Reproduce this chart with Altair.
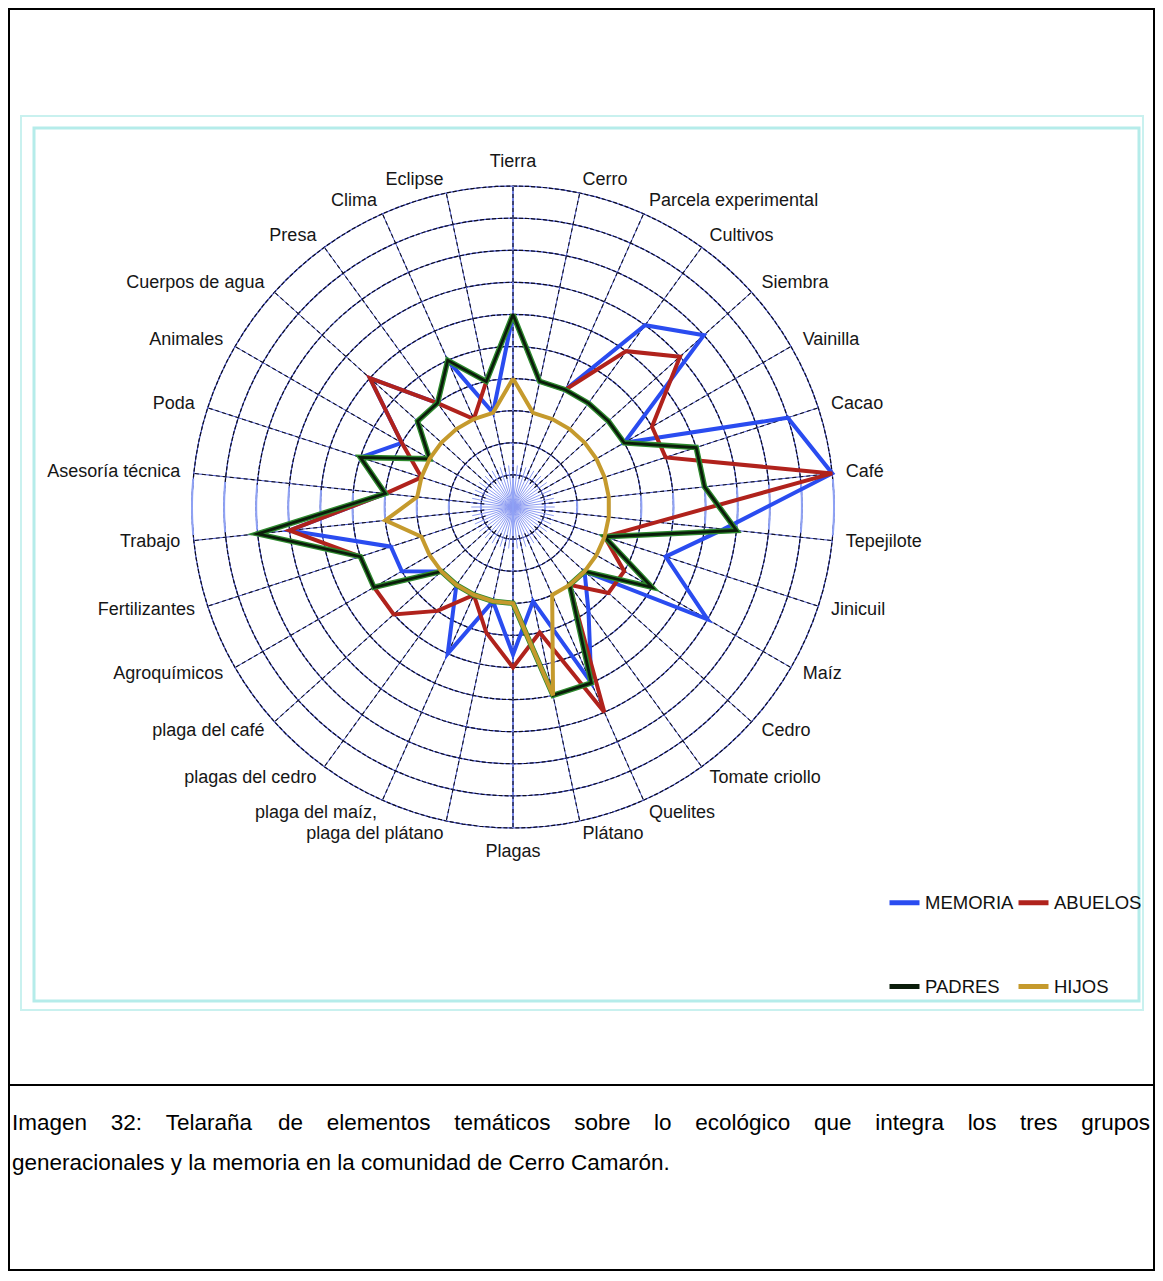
import math
import altair as alt
import pandas as pd

# ---------------- data ----------------
categorias = ["Tierra", "Cerro", "Parcela experimental", "Cultivos", "Siembra", "Vainilla",
              "Cacao", "Café", "Tepejilote", "Jinicuil", "Maíz", "Cedro", "Tomate criollo",
              "Quelites", "Plátano", "Plagas", "plaga del plátano", "plaga del maíz,",
              "plagas del cedro", "plaga del café", "Agroquímicos", "Fertilizantes", "Trabajo",
              "Asesoría técnica", "Poda", "Animales", "Cuerpos de agua", "Presa", "Clima", "Eclipse"]
memoria = [6, 4, 4, 7, 8, 4, 9, 10, 6.6, 5, 7, 3, 4, 6, 3, 4.6, 3, 5, 3, 3, 4, 4, 7, 4, 5, 4, 6, 4, 5, 3]
abuelos = [6, 4, 4, 6, 7, 5, 5, 10, 4.5, 3, 4, 4, 3, 7, 4, 5, 4, 3, 4, 5, 5, 5, 7, 4, 3, 4, 6, 4, 3, 4]
padres = [6, 4, 4, 4, 4, 4, 6, 6, 7, 3, 5, 3, 3, 6, 6, 3, 3, 3, 3, 3, 5, 5, 8, 4, 5, 3, 4, 4, 5, 4]
hijos = [4, 3, 3, 3, 3, 3, 3, 3, 3, 3, 3, 3, 3, 3, 6, 3, 3, 3, 3, 3, 3, 3, 4, 3, 3, 3, 3, 3, 3, 3]
series_nombres = ["MEMORIA", "ABUELOS", "PADRES", "HIJOS"]
series_colores = ["#2a4cf0", "#b0221c", "#0b1d0b", "#c59a2d"]
anillos = [1, 2, 3, 4, 5, 6, 7, 8, 9, 10]
linea1 = "Imagen 32: Telaraña de elementos temáticos sobre lo ecológico que integra los tres grupos"
linea2 = "generacionales y la memoria en la comunidad de Cerro Camarón."

# ---------------- layout ----------------
CX, CY, U = 513.0, 507.0, 32.1      # page position of centre, px per unit
W, H = 1147, 1263
XMIN, XMAX = (8 - CX) / U, (8 + W - CX) / U
YMIN, YMAX = (CY - 8 - H) / U, (CY - 8) / U
FONT = "Liberation Sans"
n = len(categorias)
RMAX = max(anillos)

xs = alt.Scale(domain=[XMIN, XMAX], nice=False, zero=False)
ys = alt.Scale(domain=[YMIN, YMAX], nice=False, zero=False)
X = alt.X("px:Q", scale=xs, axis=None)
Y = alt.Y("py:Q", scale=ys, axis=None)


def dx(page_x):
    return (page_x - CX) / U


def dy(page_y):
    return (CY - page_y) / U


# series table
filas = []
for nombre, vals in zip(series_nombres, [memoria, abuelos, padres, hijos]):
    for k in range(n + 1):
        filas.append({"serie": nombre, "idx": k % n, "orden": k, "valor": vals[k % n]})
df_series = pd.DataFrame(filas)

base_series = alt.Chart(df_series).transform_calculate(
    th=f"datum.idx * 2 * PI / {n}"
).transform_calculate(
    px="datum.valor * sin(datum.th)", py="datum.valor * cos(datum.th)"
)

color = alt.Color(
    "serie:N",
    scale=alt.Scale(domain=series_nombres, range=series_colores),
    legend=alt.Legend(
        title=None, orient="none", legendX=879, legendY=877, columns=2, direction="horizontal",
        symbolType="stroke", symbolSize=900, symbolStrokeWidth=5,
        labelFontSize=18.5, labelFont=FONT, labelColor="#111111",
        columnPadding=-6, rowPadding=56, labelOffset=3, padding=0,
    ),
)


def capa_serie(nombre, width=4):
    return base_series.transform_filter(alt.datum.serie == nombre).mark_line(
        strokeWidth=width, strokeJoin="miter"
    ).encode(x=X, y=Y, order="orden:Q", color=color)


padres_halo = base_series.transform_filter(alt.datum.serie == "PADRES").mark_line(
    strokeWidth=5.5, strokeJoin="miter", color="#2e8a2e"
).encode(x=X, y=Y, order="orden:Q")
padres_core = base_series.transform_filter(alt.datum.serie == "PADRES").mark_line(
    strokeWidth=2.8, strokeJoin="miter"
).encode(x=X, y=Y, order="orden:Q", color=color)

# grid rings: blue solid with black dashes on top
df_anillos = pd.DataFrame([{"r": r, "k": k} for r in anillos for k in range(121)])
ring_base = alt.Chart(df_anillos).transform_calculate(
    th="datum.k * 3 * PI / 180"
).transform_calculate(
    px="datum.r * sin(datum.th)", py="datum.r * cos(datum.th)"
)
rings_blue = ring_base.mark_line(color="#3d4ac4", strokeWidth=1.2).encode(
    x=X, y=Y, detail="r:N", order="k:Q")
rings_dash = ring_base.mark_line(color="#0d0d1e", strokeWidth=1.2, strokeDash=[4, 2]).encode(
    x=X, y=Y, detail="r:N", order="k:Q")

# light-blue segments of the rings around the horizontal direction
df_arcos = pd.DataFrame([{"r": r, "lado": s, "k": k} for r in anillos for s in (1, -1) for k in range(-5, 6)])
arcos = alt.Chart(df_arcos).transform_calculate(
    th="(90 + datum.k) * PI / 180"
).transform_calculate(
    px="datum.lado * datum.r * sin(datum.th)", py="datum.r * cos(datum.th)"
).mark_line(color="#8fa2f5", strokeWidth=2).encode(
    x=X, y=Y, detail=alt.Detail(["r:N", "lado:N"]), order="k:Q")

# spokes
df_radios = pd.DataFrame({"idx": list(range(n))})
spoke_base = alt.Chart(df_radios).transform_calculate(
    th=f"datum.idx * 2 * PI / {n}"
).transform_calculate(
    px="0.9 * sin(datum.th)", py="0.9 * cos(datum.th)",
    px2=f"{RMAX} * sin(datum.th)", py2=f"{RMAX} * cos(datum.th)"
)
spokes_blue = spoke_base.mark_rule(color="#4a58cc", strokeWidth=1).encode(
    x=X, y=Y, x2="px2:Q", y2="py2:Q")
spokes = spoke_base.mark_rule(color="#111122", strokeWidth=1.1, strokeDash=[4, 3]).encode(
    x=X, y=Y, x2="px2:Q", y2="py2:Q")

df_burst = pd.DataFrame({"idx": list(range(2 * n))})
burst = alt.Chart(df_burst).transform_calculate(
    th=f"datum.idx * PI / {n}"
).transform_calculate(
    px="0", py="0", px2="1.3 * sin(datum.th)", py2="1.3 * cos(datum.th)"
).mark_rule(color="#8d9cf2", strokeWidth=1).encode(x=X, y=Y, x2="px2:Q", y2="py2:Q")

df_ejes = pd.DataFrame({"px": [0], "py": [-RMAX], "px2": [0], "py2": [RMAX]})
ejes = alt.Chart(df_ejes).mark_rule(color="#8fa2f5", strokeWidth=1.8).encode(
    x=X, y=Y, x2="px2:Q", y2="py2:Q")

# category labels
df_etq = pd.DataFrame({"cat": categorias, "idx": list(range(n))})
etq_base = alt.Chart(df_etq).transform_calculate(
    th=f"datum.idx * 2 * PI / {n}"
).transform_calculate(
    s="sin(datum.th)", c="cos(datum.th)"
).transform_calculate(
    rl="abs(datum.s) < 0.05 ? 10.75 : 10.42"
).transform_calculate(
    px="datum.rl * datum.s", py="datum.rl * datum.c"
)
txt_kw = dict(font=FONT, fontSize=18, color="#161616", baseline="middle")
etq_der = etq_base.transform_filter("datum.s > 0.05").mark_text(align="left", **txt_kw).encode(
    x=X, y=Y, text="cat:N")
etq_izq = etq_base.transform_filter("datum.s < -0.05").mark_text(align="right", **txt_kw).encode(
    x=X, y=Y, text="cat:N")
etq_cen = etq_base.transform_filter("abs(datum.s) <= 0.05").mark_text(align="center", **txt_kw).encode(
    x=X, y=Y, text="cat:N")

# caption (first line justified)
HW = {" ": 278, ":": 278, ".": 278, ",": 278, "I": 278, "T": 611, "C": 722,
      "a": 556, "b": 556, "c": 500, "d": 556, "e": 556, "g": 556, "i": 222, "l": 222,
      "m": 833, "n": 556, "o": 556, "p": 556, "q": 556, "r": 333, "s": 500, "t": 278,
      "u": 556, "y": 500, "ñ": 556, "á": 556, "ó": 556}
FS_CAP = 22.5


def ancho(t):
    return sum(HW.get(ch, 556) for ch in t) / 1000 * FS_CAP


palabras = linea1.split()
x0, x1 = 12, 1150
hueco = (x1 - x0 - sum(ancho(p) for p in palabras)) / (len(palabras) - 1)
cap_rows = []
xx = x0
for p in palabras:
    cap_rows.append({"t": p, "px": dx(xx), "py": dy(1123)})
    xx += ancho(p) + hueco
cap_rows.append({"t": linea2, "px": dx(12), "py": dy(1163)})
caption = alt.Chart(pd.DataFrame(cap_rows)).mark_text(
    align="left", baseline="middle", font=FONT, fontSize=FS_CAP, color="#000000"
).encode(x=X, y=Y, text="t:N")


# frames / borders (pixel coordinates relative to plot origin)
def rect_frame(x_a, y_a, x_b, y_b, col, sw):
    return alt.Chart(df_radios.head(1)).mark_rect(fill=None, stroke=col, strokeWidth=sw).encode(
        x=alt.value(x_a - 8), x2=alt.value(x_b - 8), y=alt.value(y_a - 8), y2=alt.value(y_b - 8))


frame_out = rect_frame(21, 116, 1143, 1010, "#c9f1ef", 2)
frame_in = rect_frame(34, 128, 1139, 1001, "#b5ecea", 3)
page_box = rect_frame(9, 9, 1154, 1270, "#000000", 2)
separador = alt.Chart(df_radios.head(1)).mark_rule(color="#000000", strokeWidth=2).encode(
    x=alt.value(0), x2=alt.value(W), y=alt.value(1085 - 8))

chart = alt.layer(
    frame_out, frame_in, page_box, separador,
    rings_blue, rings_dash, arcos, burst, ejes, spokes_blue, spokes,
    capa_serie("MEMORIA"), capa_serie("ABUELOS"), padres_halo, padres_core, capa_serie("HIJOS"),
    etq_der, etq_izq, etq_cen, caption,
).properties(
    width=W, height=H, padding=0, autosize=alt.AutoSizeParams(type="none"), background="white"
).configure_view(stroke=None)

chart.save("out.html", embed_options={"renderer": "svg", "actions": False})
